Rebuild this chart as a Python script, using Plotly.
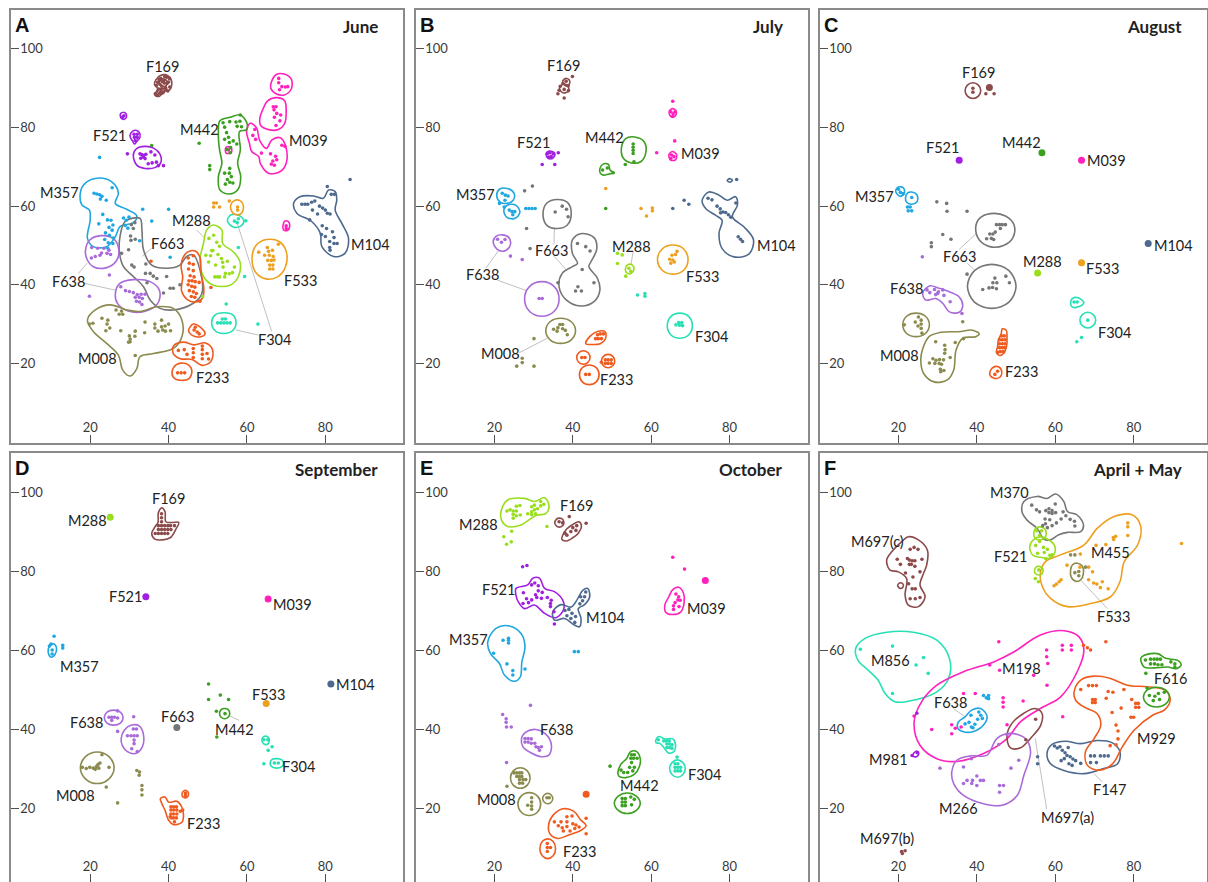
import plotly.graph_objects as go

# ---------------------------------------------------------------- colours
COL = {
    "F169": "#8c4a4a", "F521": "#a11fe2", "M039": "#ff21bd", "M442": "#3b9f1f",
    "M357": "#1fa7e1", "F663": "#767676", "M288": "#98de1c", "F638": "#a96bd9",
    "F533": "#eda01e", "F304": "#27e0b5", "M104": "#4d6a8e", "M008": "#8b8b4f",
    "F233": "#ef5a1e",
}
COL_SPRING = {
    "M370": "#767676", "M455": "#eda01e", "F533": "#8b8b4f", "F521": "#98de1c",
    "M697(c)": "#8c4a4a", "M697(a)": "#8c4a4a", "M697(b)": "#8c4a4a",
    "M856": "#27e0b5", "M198": "#ff21bd", "F638": "#1fa7e1", "F616": "#3b9f1f",
    "M929": "#ef5a1e", "M981": "#a11fe2", "M266": "#a96bd9", "F147": "#4d6a8e",
}

# ---------------------------------------------------------------- June
june_pts = {
    "F169": [(37.2, 91.5), (38.0, 92.5), (38.8, 92.0), (39.5, 92.8), (40.0, 91.6), (38.3, 90.5),
             (39.2, 90.2), (37.5, 89.8), (40.3, 90.3), (38.6, 89.0), (37.1, 88.2), (36.6, 88.6),
             (39.8, 89.3), (38.9, 91.3), (37.8, 91.0), (39.0, 93.0), (38.4, 91.7), (39.6, 91.2),
             (37.9, 88.9), (38.1, 89.6), (39.3, 89.8), (37.6, 92.2), (40.2, 92.5), (36.9, 90.7)],
    "F521": [(28.6, 83.0), (28.2, 82.6), (31.2, 78.3), (32.0, 78.3), (31.3, 77.5), (32.0, 77.5),
             (31.5, 76.7), (32.7, 73.3), (33.2, 73.1), (33.7, 72.9), (34.2, 73.2), (33.5, 72.5),
             (34.0, 72.1), (32.9, 72.2), (35.5, 73.8), (36.5, 73.0), (36.9, 71.2), (35.8, 71.0),
             (34.8, 70.8), (29.5, 73.3), (38.7, 70.3), (37.4, 70.3)],
    "M039": [(68.1, 92.5), (68.1, 91.4), (68.9, 90.4), (69.8, 90.3), (70.4, 90.4), (68.3, 89.6),
             (66.7, 85.3), (67.4, 85.3), (66.9, 84.5), (67.6, 83.6), (68.6, 83.2), (67.0, 82.6),
             (68.4, 81.7), (67.4, 80.5), (62.0, 79.5), (61.5, 78.0), (62.2, 77.0), (63.7, 73.5),
             (66.0, 73.3), (67.3, 72.7), (67.6, 71.8), (66.6, 71.5), (66.2, 70.7), (67.0, 70.4),
             (68.9, 75.5), (69.7, 75.2), (70.0, 55.0), (70.0, 54.3), (55.3, 74.3)],
    "M442": [(53.9, 81.2), (54.3, 80.1), (55.6, 81.5), (57.2, 81.4), (58.2, 81.6), (57.5, 80.3),
             (58.6, 80.2), (54.8, 78.7), (55.3, 77.5), (54.3, 77.0), (55.5, 76.2), (56.5, 76.6),
             (55.8, 74.9), (54.9, 74.4), (55.7, 73.6), (57.4, 75.8), (54.3, 68.4), (55.5, 68.4),
             (56.0, 67.5), (55.0, 66.8), (55.6, 66.1), (54.5, 65.6), (56.4, 65.9), (55.6, 69.6),
             (47.8, 76.0), (50.5, 70.3), (50.5, 69.3), (58.3, 83.2), (35.7, 75.4)],
    "M357": [(21.0, 63.3), (21.7, 63.1), (22.4, 62.9), (23.0, 62.5), (22.6, 61.8), (24.1, 61.5),
             (25.6, 64.7), (24.4, 56.5), (25.3, 56.4), (25.8, 55.2), (24.8, 54.6), (25.6, 53.9),
             (23.9, 53.2), (24.9, 52.6), (25.9, 51.9), (23.7, 51.5), (24.6, 50.7), (25.8, 50.5),
             (28.5, 57.0), (29.2, 56.4), (29.9, 57.2), (28.9, 55.1), (29.6, 54.4), (23.2, 57.9),
             (22.2, 55.5), (22.4, 72.4), (33.4, 59.2), (35.7, 56.2), (32.6, 51.2), (40.0, 59.2),
             (40.4, 47.0), (24.5, 49.3)],
    "F663": [(30.5, 55.3), (31.4, 55.8), (31.0, 54.3), (30.3, 52.4), (30.4, 51.3), (31.5, 51.6),
             (29.8, 48.9), (30.6, 45.0), (31.2, 44.5), (34.1, 42.9), (35.3, 42.9), (36.1, 42.2),
             (37.0, 41.6), (34.5, 40.5), (39.5, 42.1), (40.4, 39.1), (41.2, 39.1), (42.9, 40.0),
             (38.7, 37.9), (28.0, 48.0), (34.2, 45.3)],
    "M288": [(50.3, 51.8), (51.5, 52.6), (52.3, 50.8), (53.0, 49.8), (51.0, 48.7), (50.7, 47.4),
             (52.6, 47.7), (53.5, 46.7), (53.8, 45.7), (52.0, 45.0), (53.9, 44.5), (50.2, 45.8),
             (49.5, 47.5), (53.0, 42.0), (54.3, 42.0), (55.5, 42.8), (56.3, 43.1), (56.8, 44.5),
             (54.5, 42.9), (51.8, 42.0), (52.5, 42.0), (55.0, 46.0), (51.3, 48.7), (48.7, 37.0)],
    "F638": [(21.9, 49.3), (22.9, 48.1), (20.4, 49.5), (23.5, 49.3), (24.3, 48.0), (25.2, 47.7),
             (24.8, 48.8), (21.3, 47.2), (20.3, 46.8), (22.5, 47.5), (24.9, 42.5), (19.8, 37.1),
             (29.0, 38.5), (30.0, 38.3), (31.0, 38.0), (32.0, 37.5), (33.0, 37.6), (34.0, 37.6),
             (31.5, 36.8), (32.5, 36.8), (33.3, 36.5), (31.8, 35.8), (32.6, 35.6), (33.2, 35.0),
             (27.8, 39.5)],
    "M008": [(19.8, 30.0), (20.7, 30.2), (23.0, 31.5), (24.5, 31.0), (24.3, 30.0), (25.0, 29.0),
             (24.0, 28.3), (26.6, 33.6), (28.0, 33.3), (27.4, 32.5), (28.3, 32.5), (27.8, 28.3),
             (30.0, 27.0), (30.2, 26.2), (30.2, 25.5), (33.9, 27.8), (34.0, 30.5), (36.5, 30.0),
             (36.5, 29.0), (37.3, 28.2), (38.5, 28.5), (39.2, 28.2), (40.5, 28.3), (38.2, 29.3),
             (39.1, 29.5), (40.0, 30.0), (38.2, 31.0), (31.5, 28.2), (31.4, 26.9), (31.5, 22.0),
             (29.8, 25.4)],
    "F233": [(45.0, 46.8), (46.3, 47.4), (45.3, 45.5), (46.3, 45.2), (45.1, 44.0), (46.3, 43.6),
             (45.5, 42.3), (46.5, 42.0), (45.2, 41.0), (46.0, 41.0), (46.8, 40.8), (45.0, 40.0),
             (45.9, 39.6), (46.7, 39.4), (45.3, 38.5), (46.3, 38.2), (47.1, 37.8), (45.8, 37.0),
             (46.7, 36.8), (47.8, 40.6), (46.5, 28.5), (47.3, 28.0), (47.8, 27.5), (46.8, 29.2),
             (42.5, 23.3), (44.0, 23.5), (46.3, 23.8), (46.3, 22.7), (46.3, 21.5), (48.6, 24.4),
             (48.6, 23.5), (48.6, 22.3), (48.6, 21.2), (49.8, 22.5), (50.2, 21.1), (44.7, 22.3),
             (42.3, 17.6), (43.2, 17.6), (44.1, 17.6), (35.5, 46.0), (50.8, 39.3), (48.0, 35.8)],
    "F304": [(52.5, 30.3), (53.3, 30.3), (54.1, 30.3), (54.9, 30.3), (55.7, 30.3), (53.7, 31.3),
             (54.5, 31.3), (57.5, 55.8), (57.8, 56.8), (56.8, 56.2), (59.7, 56.3), (54.7, 35.1),
             (62.8, 30.0), (59.4, 42.1), (57.8, 49.5)],
    "F533": [(65.2, 49.5), (65.5, 48.5), (66.5, 48.8), (64.5, 47.5), (65.7, 47.5), (66.7, 47.2),
             (65.3, 46.2), (66.2, 46.2), (66.9, 46.3), (65.8, 45.0), (66.6, 45.0), (65.8, 44.0),
             (66.6, 44.0), (63.0, 48.3), (68.0, 50.3), (57.6, 59.8), (57.6, 59.0), (51.5, 60.8),
             (52.2, 60.8), (51.5, 59.8), (53.0, 59.8), (55.5, 61.3)],
    "M104": [(74.0, 60.5), (74.8, 60.5), (75.5, 60.5), (76.5, 61.0), (77.3, 61.3), (78.5, 60.0),
             (79.3, 59.5), (80.0, 59.0), (80.5, 58.2), (81.2, 58.0), (76.7, 59.0), (78.0, 58.0),
             (81.5, 63.0), (82.3, 63.0), (80.5, 65.0), (79.2, 55.0), (80.0, 52.3), (79.0, 52.8),
             (80.3, 54.3), (81.8, 53.5), (82.2, 52.0), (82.2, 50.5), (81.1, 51.0), (81.1, 49.5),
             (81.2, 48.8), (83.0, 50.5), (76.0, 56.5), (86.3, 66.8)],
}
june_rings = {
    "F169": [[(36.8, 92.2), (38.0, 93.3), (39.8, 93.2), (40.8, 91.7), (40.3, 89.6), (38.9, 89.2),
              (37.5, 87.9), (36.5, 88.3), (37.2, 89.9), (36.4, 91.0)],
             [(37.6, 91.4), (38.4, 92.4), (39.5, 91.9), (39.4, 90.7), (38.3, 90.5)],
             [(37.2, 89.2), (38.0, 90.0), (39.0, 89.6), (38.6, 88.6), (37.6, 88.5)]],
    "F521": [[(27.8, 83.6), (28.8, 83.8), (29.3, 83.0), (28.9, 82.2), (28.1, 82.2), (27.7, 82.8)],
             [(30.4, 78.6), (31.4, 79.3), (32.5, 78.8), (32.7, 77.5), (31.9, 76.5), (31.3, 75.8),
              (30.8, 76.6), (30.2, 77.6)],
             [(31.0, 72.8), (31.8, 74.6), (34.0, 75.2), (36.3, 74.7), (37.8, 73.2), (38.0, 71.0),
              (36.5, 69.8), (34.0, 69.6), (32.0, 70.3)]],
    "M039": [[(66.2, 91.5), (67.5, 93.5), (69.5, 93.6), (71.3, 92.3), (71.3, 89.8), (69.5, 88.3),
              (67.4, 88.6), (66.1, 89.9)],
             [(63.3, 82.5), (64.0, 84.5), (65.2, 86.7), (67.5, 87.6), (69.6, 86.8), (70.0, 84.0),
              (69.6, 81.0), (68.0, 79.5), (65.8, 79.4), (63.5, 80.5)],
             [(60.8, 81.1), (62.5, 79.8), (63.2, 76.8), (65.0, 74.7), (66.3, 76.8), (68.5, 77.4),
              (69.9, 75.1), (70.0, 70.9), (68.5, 68.8), (65.5, 68.4), (63.4, 70.9), (63.0, 72.6),
              (61.2, 73.9), (60.6, 76.1), (59.9, 79.0)],
             [(69.2, 55.2), (69.7, 56.2), (70.6, 56.0), (70.9, 55.0), (70.3, 53.8), (69.3, 54.0)],
             [(54.6, 74.9), (55.9, 75.0), (56.0, 73.6), (54.7, 73.5)]],
    "M442": [[(53.1, 81.7), (55.7, 82.6), (58.3, 83.2), (60.0, 81.1), (59.8, 79.4), (58.1, 79.0),
              (58.3, 74.3), (57.6, 70.9), (58.4, 67.5), (57.6, 64.1), (55.5, 63.1), (53.1, 64.1),
              (52.7, 67.5), (53.6, 70.9), (53.0, 74.3), (52.7, 78.5)]],
    "M357": [[(17.4, 62.4), (18.3, 65.4), (21.7, 67.1), (25.5, 66.2), (27.2, 63.3), (26.4, 60.7),
              (29.3, 59.2), (31.9, 57.5), (31.0, 55.8), (27.6, 54.8), (26.4, 52.2), (24.2, 49.7),
              (20.8, 49.7), (19.3, 51.8), (20.0, 56.5), (19.8, 59.0), (17.9, 60.3)]],
    "F663": [[(28.9, 56.1), (32.7, 56.9), (33.2, 53.9), (33.6, 48.9), (35.7, 45.0), (39.5, 44.2),
              (42.9, 45.0), (44.6, 47.2), (46.3, 47.6), (48.0, 43.8), (48.5, 37.8), (46.3, 35.3),
              (41.2, 33.6), (37.8, 34.0), (35.3, 36.1), (33.6, 39.5), (31.0, 42.1), (28.5, 44.6),
              (27.5, 48.0), (27.6, 52.2)]],
    "M288": [[(49.7, 53.9), (51.4, 55.2), (53.6, 53.9), (53.8, 50.5), (56.5, 48.4), (58.2, 45.9),
              (57.8, 42.1), (55.7, 39.9), (51.4, 39.9), (48.9, 42.1), (48.0, 46.3), (48.9, 50.5)]],
    "F638": [[(18.8, 48.8), (19.9, 51.4), (22.8, 52.5), (26.0, 51.7), (27.3, 49.0), (26.7, 46.1),
              (24.0, 44.3), (20.8, 44.6), (19.2, 46.5)],
             [(26.4, 37.5), (27.5, 40.3), (31.0, 41.3), (35.3, 40.8), (37.7, 38.5), (37.2, 35.2),
              (33.8, 33.2), (29.5, 33.4), (27.0, 35.2)]],
    "M008": [[(19.3, 31.0), (21.3, 33.6), (25.1, 34.9), (29.3, 33.6), (32.7, 33.2), (37.0, 34.4),
              (41.2, 34.0), (43.4, 31.0), (43.4, 26.8), (41.2, 23.8), (36.1, 22.5), (32.7, 21.7),
              (31.9, 18.7), (30.2, 16.8), (28.3, 18.3), (27.2, 22.1), (24.2, 25.1), (20.8, 28.1)]],
    "F233": [[(43.5, 46.5), (44.8, 48.3), (46.8, 48.6), (48.0, 47.0), (48.3, 43.0), (49.0, 39.0),
              (48.6, 36.5), (46.8, 35.6), (44.7, 36.3), (43.3, 38.5), (43.6, 42.0), (43.2, 44.5)],
             [(45.1, 28.3), (46.3, 30.0), (48.0, 29.3), (49.3, 27.5), (48.3, 26.8), (46.3, 27.0)],
             [(41.3, 24.5), (43.8, 25.4), (46.5, 24.7), (49.4, 25.2), (51.2, 23.5), (50.8, 20.5),
              (48.5, 19.5), (46.0, 21.0), (43.0, 21.2), (41.2, 22.5)],
             [(40.9, 18.0), (42.0, 19.7), (44.4, 20.0), (45.9, 18.4), (45.3, 16.2), (43.0, 15.7),
              (41.2, 16.5)]],
    "F304": [[(51.0, 30.6), (51.8, 32.3), (54.0, 32.9), (56.3, 32.4), (57.2, 30.5), (56.5, 28.5),
              (54.0, 27.6), (51.7, 28.5)],
             [(55.0, 56.3), (56.0, 57.8), (58.0, 57.6), (59.2, 56.2), (58.5, 55.0), (56.5, 54.7)]],
    "F533": [[(61.3, 47.0), (62.3, 50.0), (65.0, 51.5), (68.2, 51.0), (70.0, 48.5), (69.8, 44.5),
              (67.8, 42.0), (64.8, 41.5), (62.2, 43.2)],
             [(55.8, 59.7), (56.6, 61.3), (58.2, 61.4), (59.1, 59.8), (58.4, 58.0), (56.7, 58.0)]],
    "M104": [[(71.9, 60.7), (73.5, 62.4), (77.0, 62.6), (79.5, 62.0), (80.8, 64.1), (82.5, 63.7),
              (82.9, 61.6), (82.5, 59.0), (84.2, 55.6), (85.9, 51.8), (85.0, 48.0), (82.1, 47.2),
              (79.1, 49.7), (78.7, 53.1), (76.5, 56.1), (72.7, 58.2)]],
}
june_dots = {}
june_labels = [("F169", 38.4, 95.4), ("F521", 25.0, 77.9), ("M442", 47.8, 79.5),
               ("M039", 75.8, 76.8), ("M357", 12.1, 63.5), ("M288", 45.9, 56.3),
               ("F663", 39.7, 50.5), ("F638", 14.5, 40.8), ("M104", 91.6, 50.2),
               ("F533", 73.7, 41.2), ("F304", 67.1, 26.0), ("M008", 21.8, 21.3),
               ("F233", 51.1, 16.4)]
june_leaders = [((35.7, 49.3), (33.2, 47.2)), ((18.3, 40.4), (26.6, 38.6)),
                ((17.0, 42.9), (19.2, 45.5)), ((47.2, 53.9), (49.3, 51.8)),
                ((66.3, 28.1), (57.6, 55.4)), ((62.9, 27.2), (57.2, 28.5))]

# ---------------------------------------------------------------- July
july_pts = {
    "F169": [(36.8, 90.5), (37.5, 91.2), (38.3, 91.8), (38.8, 90.6), (37.8, 89.7), (38.9, 89.4),
             (36.5, 89.5), (39.9, 93.0), (36.2, 88.6), (37.8, 87.5)],
    "F521": [(33.5, 73.4), (34.2, 73.6), (35.0, 73.3), (34.5, 72.6), (33.8, 72.5), (36.3, 73.6),
             (32.2, 70.6), (35.4, 70.6)],
    "M442": [(55.4, 75.8), (55.4, 75.0), (55.4, 74.2), (55.4, 73.4), (55.6, 71.3), (47.6, 69.2),
             (48.8, 69.7), (50.3, 68.5), (53.4, 70.6), (48.4, 59.4)],
    "M039": [(65.5, 86.7), (65.0, 84.0), (65.6, 83.5), (66.1, 84.0), (65.5, 82.8), (66.0, 76.6),
             (61.4, 73.6), (65.2, 73.0), (65.8, 72.6), (65.0, 72.1)],
    "M357": [(22.0, 63.3), (22.8, 62.8), (23.5, 62.6), (22.7, 61.5), (23.8, 59.0), (24.5, 58.6),
             (25.2, 58.6), (24.7, 57.8), (21.3, 60.7), (22.5, 59.8), (28.0, 59.4), (28.8, 59.4),
             (29.6, 59.4), (30.4, 59.4)],
    "F663": [(35.5, 58.5), (37.3, 60.0), (38.4, 59.2), (38.8, 57.3), (41.2, 50.5), (43.3, 49.7),
             (44.4, 48.6), (42.4, 43.9), (45.4, 40.5), (41.3, 39.5), (40.7, 38.4), (42.2, 38.4),
             (36.2, 40.5), (27.7, 63.9), (29.7, 65.1), (28.2, 54.3), (29.1, 49.2)],
    "F638": [(20.8, 51.6), (22.7, 51.5), (21.8, 50.8), (24.1, 47.3), (27.1, 46.4), (31.4, 36.5),
             (32.2, 36.5)],
    "M288": [(54.3, 44.2), (54.8, 43.4), (53.5, 42.2), (51.4, 48.0), (52.6, 47.6), (51.4, 45.4)],
    "F533": [(65.3, 47.5), (66.2, 47.7), (65.5, 46.3), (64.7, 46.5), (66.6, 48.5), (65.0, 45.5),
             (65.9, 45.8), (48.4, 64.5), (57.4, 59.4), (60.3, 58.8), (60.3, 59.5), (58.8, 57.5)],
    "F304": [(66.3, 29.8), (67.0, 30.4), (67.8, 30.4), (67.2, 29.7), (68.0, 29.6), (56.5, 37.4),
             (58.4, 37.8), (58.4, 37.1)],
    "M104": [(74.5, 62.0), (75.5, 61.6), (76.8, 60.0), (77.6, 59.3), (78.3, 58.5), (79.0, 58.4),
             (79.7, 57.8), (80.3, 57.2), (81.6, 60.8), (82.2, 52.2), (82.8, 51.6), (83.3, 51.0),
             (77.7, 58.3), (81.8, 66.8), (65.5, 59.4), (68.4, 61.5), (69.6, 60.5)],
    "M008": [(35.1, 28.7), (36.2, 29.1), (36.7, 29.9), (37.4, 29.9), (37.4, 28.8), (38.1, 28.4),
             (38.6, 27.3), (36.0, 28.2), (30.1, 26.3), (27.1, 21.3), (27.1, 20.2), (25.7, 19.3),
             (30.1, 19.3)],
    "F233": [(45.8, 26.3), (46.5, 26.3), (47.3, 26.3), (46.3, 27.3), (47.0, 27.5), (47.8, 27.5),
             (42.3, 21.5), (43.1, 21.5), (48.3, 20.9), (49.0, 20.9), (49.8, 20.9), (48.3, 20.0),
             (49.0, 20.0), (49.8, 20.0), (47.3, 20.3), (43.3, 17.2), (44.2, 17.2)],
}
july_rings = {
    "F169": [[(37.4, 91.6), (38.1, 92.5), (39.1, 92.1), (39.1, 91.0), (38.2, 90.6)],
             [(36.6, 89.9), (37.5, 91.0), (38.7, 90.7), (38.9, 89.3), (37.6, 88.8)]],
    "F521": [[(33.2, 73.4), (34.0, 74.0), (35.3, 73.6), (35.2, 72.5), (34.2, 72.0), (33.4, 72.5)]],
    "M442": [[(52.4, 74.8), (53.5, 77.2), (55.8, 77.6), (58.2, 76.4), (58.6, 73.5), (57.3, 71.3),
              (55.0, 71.0), (52.9, 72.2)],
             [(46.9, 69.5), (47.7, 70.7), (49.1, 70.6), (49.5, 69.2), (50.5, 68.5), (49.2, 68.2),
              (47.8, 67.9), (47.0, 68.4)]],
    "M039": [[(64.6, 84.2), (65.5, 84.8), (66.4, 84.1), (66.1, 82.9), (65.0, 82.8)],
             [(64.5, 73.0), (65.4, 73.9), (66.5, 73.0), (66.2, 71.8), (65.0, 71.7)]],
    "M357": [[(20.6, 62.7), (21.3, 64.3), (23.3, 64.5), (25.0, 63.3), (24.8, 61.5), (23.2, 60.7),
              (21.5, 61.0)],
             [(22.4, 58.8), (23.4, 60.3), (25.5, 60.2), (26.5, 58.5), (25.3, 56.9), (23.3, 57.1)]],
    "F663": [[(32.4, 58.0), (33.4, 60.8), (36.0, 61.7), (38.7, 60.9), (39.6, 58.0), (38.6, 55.2),
              (36.0, 54.3), (33.4, 55.1)],
             [(39.9, 51.4), (42.0, 53.0), (45.4, 52.0), (46.1, 49.0), (44.6, 45.8), (44.1, 44.6),
              (46.3, 41.6), (46.9, 38.6), (45.4, 35.7), (42.0, 34.6), (38.4, 36.1), (36.5, 39.5),
              (37.3, 42.9), (39.9, 44.6), (41.2, 45.4), (39.9, 48.0)]],
    "F638": [[(19.7, 50.7), (20.4, 52.3), (22.0, 52.7), (23.7, 52.0), (24.1, 50.3), (23.0, 48.8),
              (21.2, 48.7)],
             [(27.7, 36.4), (29.0, 39.6), (32.1, 40.8), (35.2, 39.6), (36.5, 36.4), (35.2, 33.2),
              (32.1, 32.0), (29.0, 33.2)]],
    "M288": [[(53.4, 44.0), (54.0, 45.1), (55.2, 45.0), (55.6, 43.9), (54.9, 42.9), (53.8, 43.0)]],
    "F533": [[(61.6, 46.4), (62.8, 49.1), (65.5, 50.1), (68.3, 49.1), (69.4, 46.4), (68.3, 43.7),
              (65.5, 42.7), (62.8, 43.7)]],
    "F304": [[(64.1, 29.6), (65.0, 31.9), (67.3, 32.8), (69.6, 31.9), (70.5, 29.6), (69.6, 27.3),
              (67.3, 26.4), (65.0, 27.3)]],
    "M104": [[(73.0, 61.5), (74.7, 63.6), (77.3, 62.8), (79.4, 61.5), (81.5, 62.4), (82.0, 60.3),
              (80.7, 57.3), (83.7, 54.7), (86.1, 51.4), (84.9, 47.8), (81.1, 47.1), (78.1, 49.2),
              (77.3, 53.1), (78.1, 56.4), (76.4, 57.7), (73.9, 59.4)],
             [(79.4, 66.5), (80.0, 67.0), (80.7, 66.6), (80.1, 66.1)]],
    "M008": [[(33.1, 28.3), (34.2, 30.6), (36.9, 31.5), (39.6, 30.6), (40.7, 28.3), (39.6, 26.0),
              (36.9, 25.1), (34.2, 26.0)]],
    "F233": [[(43.3, 25.0), (44.5, 27.0), (46.5, 28.2), (48.3, 28.0), (48.3, 26.2), (47.0, 25.0),
              (45.0, 24.8)],
             [(41.0, 21.5), (41.5, 22.7), (42.7, 23.2), (43.9, 22.7), (44.4, 21.5), (43.9, 20.3),
              (42.7, 19.8), (41.5, 20.3)],
             [(47.3, 20.6), (47.8, 21.8), (49.0, 22.3), (50.2, 21.8), (50.7, 20.6), (50.2, 19.4),
              (49.0, 18.9), (47.8, 19.4)],
             [(41.7, 17.1), (42.4, 18.9), (44.2, 19.6), (46.0, 18.9), (46.7, 17.1), (46.0, 15.3),
              (44.2, 14.6), (42.4, 15.3)]],
}
july_dots = {}
july_labels = [("F169", 37.7, 95.8), ("F521", 30.1, 76.2), ("M442", 48.0, 77.5),
               ("M039", 72.6, 73.5), ("M357", 15.2, 63.0), ("F663", 34.5, 48.8),
               ("F638", 17.0, 42.5), ("M288", 55.1, 49.8), ("F533", 73.0, 42.2),
               ("F304", 75.3, 26.8), ("M104", 92.0, 50.0), ("M008", 21.5, 22.4),
               ("F233", 51.1, 15.9)]
july_leaders = [((35.2, 50.3), (35.3, 54.3)), ((35.2, 47.3), (38.5, 43.6)),
                ((17.8, 44.2), (21.0, 48.6)), ((20.7, 41.2), (28.2, 38.5)),
                ((55.4, 48.4), (54.8, 45.0)), ((26.3, 22.7), (33.5, 26.4))]

# ---------------------------------------------------------------- August
aug_pts = {
    "F169": [(39.0, 90.0), (39.0, 89.0), (42.3, 88.6), (44.4, 88.6)],
    "M357": [(20.0, 64.3), (20.5, 63.5), (21.2, 63.2), (23.4, 62.2), (22.3, 59.8), (23.0, 59.8),
             (22.5, 58.8), (23.4, 58.8)],
    "F663": [(45.0, 55.3), (45.8, 55.3), (46.5, 55.3), (47.3, 55.3), (46.0, 54.3), (44.7, 53.4),
             (43.3, 52.9), (44.1, 52.9), (43.7, 51.8), (44.3, 51.5), (42.5, 51.7), (44.6, 41.7),
             (41.5, 38.8), (43.1, 39.2), (44.0, 39.3), (44.1, 40.5), (45.1, 40.5), (45.0, 39.0),
             (47.4, 42.2), (48.3, 40.5), (37.5, 42.7), (29.8, 61.1), (32.3, 60.7), (32.4, 58.7),
             (37.5, 58.7), (31.3, 52.8), (33.4, 51.6), (28.4, 50.7), (28.4, 49.7)],
    "F638": [(27.3, 38.7), (28.0, 38.0), (29.2, 38.8), (30.2, 38.2), (31.3, 38.7), (31.6, 37.3),
             (33.2, 35.7), (29.5, 37.5), (30.0, 37.8), (26.1, 47.1), (36.2, 32.7)],
    "M008": [(21.5, 29.8), (24.3, 30.5), (25.1, 31.8), (25.8, 31.0), (25.8, 30.0), (25.0, 29.5),
             (25.8, 28.9), (26.0, 27.7), (29.5, 25.5), (31.8, 24.6), (31.9, 23.5), (31.8, 22.6),
             (28.8, 21.2), (29.6, 20.8), (30.5, 21.0), (30.4, 20.0), (31.0, 19.8), (29.3, 20.0),
             (27.9, 20.1), (30.7, 18.5), (31.6, 18.2), (30.8, 17.9), (31.5, 20.9), (33.2, 21.5),
             (36.6, 26.3), (34.5, 25.3), (36.4, 30.6)],
    "F233": [(46.3, 27.0), (47.0, 27.0), (45.8, 26.0), (46.5, 26.0), (47.2, 26.0), (45.8, 25.0),
             (46.5, 25.0), (47.2, 25.0), (45.8, 24.0), (46.5, 24.0), (47.1, 24.0), (46.0, 23.0),
             (46.7, 23.0), (45.3, 22.8), (44.6, 17.2), (45.3, 18.0)],
    "F304": [(64.8, 35.6), (65.6, 35.6), (68.3, 31.0), (66.7, 26.6), (65.5, 25.5)],
}
aug_rings = {
    "F169": [[(37.0, 89.4), (37.6, 90.8), (39.0, 91.4), (40.4, 90.8), (41.0, 89.4), (40.4, 88.0),
              (39.0, 87.4), (37.6, 88.0)]],
    "M357": [[(19.3, 63.8), (20.0, 64.9), (21.3, 64.6), (21.5, 63.2), (20.4, 62.5)],
             [(21.8, 62.0), (22.3, 63.3), (23.4, 63.6), (24.7, 62.9), (24.8, 61.2), (23.4, 60.5),
              (22.1, 61.0)]],
    "F663": [[(39.7, 54.5), (40.7, 56.9), (43.5, 58.1), (47.3, 57.5), (49.5, 55.2), (49.2, 52.0),
              (46.8, 50.0), (43.3, 49.7), (40.7, 51.3)],
             [(37.6, 39.6), (39.4, 43.6), (43.8, 45.2), (48.2, 43.6), (50.0, 39.6), (48.2, 35.6),
              (43.8, 34.0), (39.4, 35.6)]],
    "F638": [[(26.2, 37.8), (27.9, 39.7), (30.4, 39.1), (33.0, 38.2), (35.5, 36.9), (36.4, 34.8),
              (35.5, 33.0), (33.0, 33.1), (31.3, 35.3), (29.5, 36.5), (27.0, 36.1)]],
    "M008": [[(21.1, 29.8), (22.1, 32.0), (24.5, 32.8), (26.9, 32.0), (27.9, 29.8), (26.9, 27.6),
              (24.5, 26.8), (22.1, 27.6)],
             [(26.1, 23.4), (27.8, 26.8), (30.8, 27.9), (35.9, 28.1), (38.5, 28.5), (40.6, 27.6),
              (39.7, 26.8), (36.4, 26.4), (34.7, 23.4), (34.1, 18.3), (32.5, 15.8), (29.1, 15.3),
              (26.4, 17.5), (25.7, 20.8)]],
    "F233": [[(46.5, 28.8), (47.5, 28.4), (47.7, 26.5), (47.6, 24.5), (46.8, 22.5), (45.8, 22.0),
              (45.0, 22.8), (45.3, 24.3), (45.5, 26.0), (46.2, 27.5)],
             [(43.3, 17.2), (43.9, 18.8), (45.3, 19.2), (46.3, 18.2), (46.0, 16.6), (44.4, 16.2)]],
    "F304": [[(63.9, 35.3), (64.5, 36.6), (65.8, 36.7), (67.3, 35.5), (65.9, 34.4), (64.4, 34.3)],
             [(66.3, 31.0), (66.9, 32.4), (68.3, 33.0), (69.7, 32.4), (70.3, 31.0), (69.7, 29.6),
              (68.3, 29.0), (66.9, 29.6)]],
}
aug_dots = {"F169": (43.2, 90.2), "F521": (35.5, 71.7), "M442": (56.6, 73.6),
            "M039": (66.7, 71.7), "M288": (55.5, 43.0), "F533": (66.7, 45.6),
            "M104": (83.7, 50.5)}
aug_labels = [("F169", 40.4, 93.9), ("F521", 31.3, 74.8), ("M442", 51.3, 76.1),
              ("M039", 73.1, 71.5), ("M357", 13.9, 62.5), ("F663", 35.5, 47.3),
              ("M288", 56.8, 45.8), ("F533", 72.1, 44.2), ("M104", 90.1, 50.1),
              ("F638", 22.0, 39.1), ("M008", 20.2, 21.9), ("F233", 51.3, 17.9),
              ("F304", 75.2, 27.8)]
aug_leaders = [((35.5, 49.0), (39.8, 53.0)), ((37.6, 45.4), (39.3, 43.9))]

# ---------------------------------------------------------------- September
sep_pts = {
    "F169": [(38.2, 94.5), (38.2, 93.5), (38.2, 92.5), (37.4, 91.5), (38.2, 91.5), (39.0, 91.5),
             (39.8, 91.5), (37.4, 90.5), (38.2, 90.5), (39.0, 90.5), (39.8, 90.5), (40.6, 90.5),
             (37.4, 89.5), (38.2, 89.5), (39.0, 89.5), (39.8, 89.5), (36.6, 89.5), (40.5, 91.5),
             (41.5, 91.5)],
    "M357": [(10.0, 61.5), (10.8, 63.5), (13.0, 61.2), (13.0, 60.5), (10.3, 60.0), (10.3, 59.0),
             (9.6, 61.0)],
    "M442": [(54.4, 43.9), (50.2, 51.4), (50.2, 47.5), (53.2, 48.6), (55.3, 47.5), (52.2, 44.5),
             (52.3, 38.0)],
    "F638": [(24.8, 43.0), (25.5, 43.0), (26.2, 43.0), (27.0, 42.8), (25.5, 42.2), (27.0, 44.6),
             (27.0, 39.4), (31.0, 40.0), (31.8, 40.0), (29.5, 38.3), (30.4, 38.3), (31.2, 38.3),
             (32.0, 38.3), (31.2, 37.2), (31.2, 36.3), (30.6, 35.0), (32.0, 34.3), (31.1, 43.1)],
    "M008": [(18.0, 30.3), (19.0, 30.0), (19.9, 30.3), (20.8, 30.1), (21.6, 30.5), (22.2, 30.1),
             (22.5, 31.4), (22.0, 31.0), (21.3, 29.8), (24.8, 30.3), (23.0, 33.5), (24.1, 25.3),
             (27.0, 21.3), (31.9, 29.5), (32.6, 29.1), (32.5, 28.3), (33.2, 25.7), (33.2, 24.6),
             (33.2, 23.3)],
    "F233": [(40.6, 20.3), (41.3, 20.3), (42.0, 20.3), (40.6, 19.5), (41.3, 19.5), (42.1, 19.5),
             (40.6, 18.5), (41.3, 18.5), (42.1, 18.5), (43.0, 19.2), (40.7, 17.5), (41.3, 17.5),
             (42.0, 17.5), (43.6, 19.5), (41.5, 16.5), (40.4, 17.8), (44.3, 23.7), (44.3, 23.2)],
    "F304": [(64.3, 37.3), (65.3, 37.3), (65.4, 34.6), (66.4, 35.5), (67.0, 31.4), (68.0, 31.4),
             (64.3, 31.2)],
}
sep_rings = {
    "F169": [[(37.4, 94.8), (38.3, 96.0), (39.1, 95.0), (39.3, 92.5), (40.8, 92.3), (42.6, 92.3),
              (41.8, 90.5), (40.5, 88.5), (38.5, 87.9), (36.5, 88.1), (35.7, 89.5), (36.6, 91.3),
              (37.3, 92.3)]],
    "M357": [[(9.3, 59.3), (9.6, 61.0), (10.6, 61.6), (11.4, 60.6), (11.0, 58.8), (10.1, 58.2)]],
    "M442": [[(53.0, 43.9), (53.4, 44.9), (54.3, 45.2), (55.2, 44.9), (55.6, 43.9), (55.2, 43.0),
              (54.3, 42.6), (53.4, 43.0)]],
    "F638": [[(23.6, 42.9), (24.3, 44.3), (26.0, 44.8), (27.7, 44.3), (28.4, 42.9), (27.7, 41.5),
              (26.0, 41.0), (24.3, 41.5)],
             [(27.9, 37.5), (28.7, 39.7), (30.5, 41.0), (32.5, 40.8), (33.6, 38.5), (33.3, 35.5),
              (31.5, 33.8), (29.5, 34.3), (28.2, 35.8)]],
    "M008": [[(17.5, 30.2), (18.8, 33.0), (21.8, 34.2), (24.8, 33.0), (26.1, 30.2), (24.8, 27.4),
              (21.8, 26.2), (18.8, 27.4)]],
    "F233": [[(37.9, 22.4), (39.1, 22.8), (40.0, 21.5), (42.1, 21.7), (43.4, 20.2), (43.8, 18.1),
              (43.4, 16.4), (41.3, 15.8), (40.0, 16.9), (39.1, 19.4), (38.3, 21.1)],
             [(43.4, 23.5), (43.8, 24.3), (44.6, 24.4), (45.1, 23.6), (44.7, 22.7), (43.8, 22.7)]],
    "F304": [[(63.8, 37.2), (64.3, 38.1), (65.3, 38.0), (65.7, 37.0), (65.1, 36.1), (64.2, 36.3)],
             [(65.9, 31.3), (66.4, 32.3), (67.6, 32.5), (68.9, 32.2), (69.3, 31.3), (68.8, 30.4),
              (67.6, 30.1), (66.4, 30.4)]],
}
sep_dots = {"M288": (25.1, 93.6), "F521": (34.2, 73.5), "M039": (65.4, 72.9),
            "M104": (81.4, 51.4), "F533": (64.9, 46.5), "F663": (42.1, 40.4)}
sep_labels = [("F169", 40.1, 98.3), ("M288", 19.4, 92.7), ("F521", 28.9, 73.5),
              ("M039", 71.5, 71.5), ("M357", 17.2, 55.9), ("M104", 87.7, 51.3),
              ("F533", 65.5, 48.7), ("F663", 42.3, 43.1), ("M442", 56.9, 39.9),
              ("F638", 19.0, 41.6), ("M008", 16.3, 23.2), ("F233", 48.8, 16.0),
              ("F304", 73.1, 30.6)]
sep_leaders = [((55.6, 43.3), (58.0, 42.2))]

# ---------------------------------------------------------------- October
oct_pts = {
    "M288": [(23.2, 95.2), (24.0, 95.5), (24.8, 95.2), (25.6, 95.2), (24.8, 94.4), (25.6, 94.0),
             (24.8, 93.4), (26.6, 94.2), (25.6, 96.4), (26.5, 96.6), (29.5, 96.3), (30.2, 96.7),
             (30.2, 95.5), (31.0, 95.8), (31.8, 96.5), (31.8, 97.6), (32.6, 96.9), (29.5, 95.0),
             (29.5, 94.3), (30.5, 94.5), (28.5, 94.5), (33.4, 91.3), (24.4, 90.1), (22.4, 88.7),
             (24.3, 87.4), (23.1, 86.8)],
    "F169": [(38.5, 89.1), (39.5, 90.0), (40.0, 91.0), (41.0, 91.5), (40.8, 90.3), (38.0, 89.6),
             (36.5, 92.5), (37.4, 92.2), (39.1, 93.8), (43.4, 92.1)],
    "F521": [(27.4, 74.5), (28.2, 73.0), (29.5, 76.5), (30.3, 77.0), (31.2, 76.3), (31.2, 75.0),
             (30.5, 74.0), (30.8, 73.3), (32.0, 73.1), (32.2, 74.6), (33.5, 73.3), (34.5, 72.6),
             (34.3, 71.8), (34.3, 71.0), (28.7, 72.0), (27.3, 71.8), (29.5, 72.7), (35.2, 69.7),
             (27.2, 81.1), (28.3, 81.4), (35.3, 66.6)],
    "M104": [(38.0, 70.0), (39.0, 70.3), (39.8, 69.3), (38.5, 68.7), (39.5, 68.0), (40.7, 68.5),
             (40.5, 67.0), (41.8, 71.7), (42.5, 72.5), (43.0, 73.5), (43.3, 74.7), (42.0, 73.5)],
    "M039": [(66.3, 74.2), (67.0, 73.5), (67.4, 72.6), (66.8, 72.7), (66.1, 72.0), (65.7, 71.2),
             (67.1, 71.0), (65.7, 70.3), (65.5, 83.5), (68.5, 80.5)],
    "M357": [(22.2, 62.5), (23.6, 62.5), (23.6, 63.0), (23.6, 61.8), (19.8, 59.2), (23.2, 56.5),
             (24.7, 54.8), (24.7, 53.7), (27.8, 55.2), (40.4, 59.6), (41.4, 59.6)],
    "F638": [(27.8, 37.6), (28.6, 37.6), (29.4, 37.5), (27.8, 36.7), (28.6, 36.7), (29.4, 36.4),
             (30.3, 36.4), (30.6, 35.5), (31.2, 35.3), (32.0, 35.5), (31.5, 34.6), (22.1, 43.7),
             (23.0, 42.6), (23.0, 41.7), (23.1, 40.5), (24.3, 40.5), (29.2, 46.0), (23.1, 31.5)],
    "M008": [(25.0, 28.9), (25.7, 28.9), (26.4, 28.9), (27.0, 28.9), (25.7, 28.0), (26.4, 28.0),
             (27.0, 28.0), (26.4, 27.2), (27.3, 27.2), (26.4, 26.3), (27.2, 26.3), (28.0, 27.2),
             (29.5, 22.6), (29.5, 21.5), (29.5, 20.5), (28.5, 20.7), (29.5, 19.7), (33.4, 22.6),
             (34.0, 22.6), (23.2, 25.5)],
    "F233": [(35.3, 16.5), (36.3, 15.5), (37.0, 16.5), (37.3, 15.0), (37.6, 14.2), (38.5, 17.8),
             (38.5, 16.5), (38.5, 15.3), (39.3, 14.2), (40.0, 16.0), (40.8, 15.7), (40.5, 14.8),
             (41.6, 15.2), (39.8, 18.0), (43.4, 17.4), (43.4, 13.5), (33.5, 11.0), (33.5, 10.0),
             (33.5, 9.0), (34.3, 10.0)],
    "M442": [(55.0, 33.5), (55.7, 33.5), (54.8, 32.6), (55.5, 32.6), (56.4, 32.6), (55.0, 31.5),
             (54.5, 30.3), (55.3, 29.4), (54.0, 29.0), (53.0, 29.0), (52.3, 29.6), (55.7, 30.3),
             (49.5, 30.6), (52.6, 22.4), (53.4, 22.4), (54.8, 22.8), (52.6, 21.5), (53.4, 21.5),
             (52.6, 20.6), (53.4, 20.6), (55.0, 20.8), (55.7, 22.2)],
    "F304": [(63.2, 37.0), (63.9, 37.0), (64.6, 37.0), (64.0, 36.2), (64.7, 36.2), (65.3, 36.0),
             (64.0, 35.3), (64.7, 35.3), (65.3, 35.1), (61.8, 37.3), (66.1, 31.2), (66.8, 31.2),
             (66.1, 30.3), (66.8, 30.3), (67.5, 30.3), (66.1, 29.4), (66.8, 29.4), (67.5, 29.4),
             (66.6, 32.9)],
}
oct_rings = {
    "M288": [[(21.7, 95.1), (23.4, 98.0), (27.7, 98.4), (30.2, 97.6), (32.8, 98.6), (33.9, 96.7),
              (33.2, 94.6), (30.6, 94.1), (26.8, 91.7), (23.4, 91.3), (21.9, 92.7)]],
    "F169": [[(35.4, 92.2), (35.8, 93.1), (36.6, 93.4), (37.5, 93.0), (37.7, 92.0), (37.0, 91.2),
              (36.0, 91.3)],
             [(37.4, 89.0), (38.5, 90.7), (40.0, 91.8), (41.5, 92.5), (42.2, 91.5), (41.4, 89.6),
              (39.8, 88.3), (38.2, 87.6), (37.2, 88.0)]],
    "F521": [[(25.5, 75.6), (28.5, 76.5), (29.8, 78.2), (31.5, 78.2), (32.8, 75.6), (35.3, 74.8),
              (37.4, 72.7), (37.7, 70.4), (35.7, 68.2), (32.8, 69.3), (30.2, 71.4), (27.7, 70.5),
              (26.1, 72.2), (25.5, 73.9)]],
    "M104": [[(34.9, 69.7), (37.0, 71.5), (39.6, 70.9), (41.3, 73.1), (42.6, 75.2), (43.8, 75.6),
              (44.3, 73.5), (43.0, 71.5), (41.4, 70.5), (42.1, 68.0), (41.7, 65.9), (40.3, 66.4),
              (37.9, 68.0), (35.3, 67.6)]],
    "M039": [[(63.5, 71.5), (64.5, 73.5), (65.5, 75.3), (67.0, 75.9), (68.2, 74.5), (68.4, 72.0),
              (67.5, 69.6), (65.3, 69.0), (63.7, 69.6)]],
    "M357": [[(18.3, 62.1), (20.4, 65.5), (23.8, 66.1), (26.8, 64.2), (27.8, 60.8), (27.0, 57.0),
              (26.6, 53.2), (25.1, 52.1), (22.6, 53.6), (21.3, 56.6), (19.0, 59.1)]],
    "F638": [[(26.9, 37.5), (28.0, 39.2), (30.5, 39.9), (33.0, 38.8), (34.5, 36.3), (34.0, 33.5),
              (32.0, 33.0), (29.3, 34.0), (27.3, 35.5)]],
    "M008": [[(24.1, 27.6), (24.8, 29.4), (26.6, 30.2), (28.4, 29.4), (29.1, 27.6), (28.4, 25.8),
              (26.6, 25.0), (24.8, 25.8)],
             [(26.0, 21.0), (26.8, 23.0), (28.9, 23.9), (31.0, 23.0), (31.8, 21.0), (31.0, 19.0),
              (28.9, 18.1), (26.8, 19.0)],
             [(32.3, 22.4), (32.7, 23.3), (33.6, 23.7), (34.5, 23.3), (34.9, 22.4), (34.3, 21.3),
              (33.6, 21.1), (32.8, 21.4)]],
    "F233": [[(33.8, 15.5), (35.0, 18.2), (37.5, 19.8), (40.2, 19.2), (42.0, 17.0), (43.4, 15.5),
              (42.0, 14.3), (39.0, 13.2), (36.3, 12.3), (34.3, 13.3)],
             [(31.6, 9.7), (32.2, 11.5), (33.6, 12.2), (35.0, 11.5), (35.6, 9.7), (35.0, 7.9),
              (33.6, 7.2), (32.2, 7.9)]],
    "M442": [[(51.5, 28.8), (52.2, 31.0), (53.7, 32.5), (54.8, 34.3), (56.3, 34.3), (57.2, 32.5),
              (57.0, 30.5), (55.7, 28.5), (53.5, 27.7), (51.8, 28.0)],
             [(50.6, 21.2), (51.6, 23.0), (53.9, 23.8), (56.2, 23.0), (57.2, 21.2), (56.2, 19.4),
              (53.9, 18.6), (51.6, 19.4)]],
    "F304": [[(61.3, 37.5), (62.0, 38.1), (63.5, 37.5), (65.5, 37.5), (66.2, 36.0), (65.7, 34.2),
              (64.3, 34.0), (63.3, 35.2), (62.3, 36.3), (61.2, 36.6)],
             [(64.7, 30.0), (65.3, 31.5), (66.7, 32.2), (68.1, 31.5), (68.7, 30.0), (68.1, 28.5),
              (66.7, 27.8), (65.3, 28.5)]],
}
oct_dots = {"F233": (43.4, 23.5), "M039": (73.8, 77.6)}
oct_labels = [("M288", 16.0, 91.8), ("F169", 40.9, 96.5), ("F521", 21.0, 75.4),
              ("M104", 48.3, 68.2), ("M039", 74.1, 70.5), ("M357", 13.4, 62.8),
              ("F638", 35.8, 39.9), ("M008", 20.6, 22.1), ("F233", 41.8, 9.0),
              ("M442", 57.0, 25.6), ("F304", 73.6, 28.5)]
oct_leaders = []

# ---------------------------------------------------------------- April + May
spring_pts = {
    "M370": [(54.0, 96.7), (55.2, 95.5), (56.0, 95.0), (57.6, 95.3), (58.4, 95.8), (59.2, 95.3),
             (58.4, 94.8), (59.2, 94.6), (60.1, 94.8), (60.0, 97.0), (62.0, 95.0), (62.7, 94.0),
             (61.5, 93.2), (58.6, 93.0), (57.4, 93.2), (60.3, 92.2), (63.8, 93.1), (64.9, 92.6),
             (65.0, 91.4), (56.8, 91.5), (57.5, 92.0), (58.0, 91.0), (59.2, 91.5)],
    "M455": [(66.4, 84.3), (70.4, 86.5), (72.9, 86.7), (74.8, 88.5), (75.4, 88.8), (74.9, 88.0),
             (78.5, 92.2), (78.5, 91.2), (78.5, 89.0), (63.0, 81.5), (66.3, 81.0), (68.5, 81.0),
             (69.5, 79.8), (61.0, 77.3), (60.3, 76.7), (61.5, 77.8), (59.7, 76.3), (68.5, 77.8),
             (69.8, 77.0), (70.6, 76.7), (72.0, 77.3), (73.5, 75.5), (71.5, 75.8), (92.2, 87.0)],
    "F533": [(65.0, 79.6), (66.0, 79.9), (66.0, 78.8), (63.9, 84.1), (65.0, 84.1), (67.7, 81.0)],
    "F521": [(55.3, 90.2), (56.5, 90.2), (56.0, 89.0), (56.0, 87.5), (55.0, 86.5), (57.0, 86.0),
             (58.0, 85.5), (57.2, 84.7), (55.5, 84.5), (58.6, 84.0), (57.6, 83.1), (55.8, 80.3),
             (54.9, 78.1), (55.7, 77.3), (59.2, 84.1)],
    "M697(c)": [(23.0, 85.5), (24.0, 86.0), (25.0, 85.5), (26.0, 83.0), (22.3, 83.2), (22.8, 82.8),
                (23.5, 82.6), (24.2, 82.6), (22.8, 81.7), (23.3, 81.7), (24.2, 81.2), (19.7, 83.0),
                (20.5, 81.7), (21.8, 79.5), (23.7, 78.5), (25.5, 79.8), (22.6, 76.8), (23.5, 75.5),
                (24.3, 75.5), (23.0, 73.0), (24.3, 73.0), (25.5, 73.3)],
    "M856": [(10.3, 60.2), (18.5, 61.0), (26.4, 58.1), (24.5, 56.2), (27.6, 54.1), (18.5, 49.0)],
    "M198": [(45.6, 62.1), (43.3, 56.2), (45.8, 54.9), (54.5, 53.6), (58.1, 56.6), (57.8, 58.3),
             (57.8, 60.0), (61.8, 61.2), (61.8, 60.0), (64.1, 61.2), (64.1, 60.0), (57.9, 51.1),
             (61.9, 43.1), (39.6, 49.0), (46.7, 47.9), (46.7, 46.8), (46.7, 45.6), (51.8, 47.1),
             (33.6, 41.1), (34.5, 40.2), (33.6, 38.8), (36.6, 49.0), (47.7, 41.1), (28.5, 39.9),
             (24.0, 43.3), (36.0, 40.5)],
    "F638": [(37.0, 41.3), (38.0, 41.7), (38.6, 40.5), (39.5, 41.2), (40.2, 42.5), (41.0, 43.5),
             (40.5, 44.3), (41.4, 42.7), (38.5, 43.5), (39.0, 40.3), (41.7, 48.5), (42.4, 47.9),
             (43.0, 48.5), (43.0, 47.7)],
    "M697(a)": [(55.0, 42.5), (52.5, 37.3)],
    "M266": [(36.6, 30.4), (38.6, 32.5), (40.0, 28.1), (40.9, 27.0), (41.7, 27.0), (38.9, 27.0),
             (36.6, 26.2), (38.7, 26.2), (45.8, 25.7), (45.8, 24.0), (46.8, 25.7), (48.7, 30.1),
             (50.7, 32.1), (45.6, 36.1), (30.6, 30.1), (40.0, 25.7), (37.5, 27.0), (47.7, 38.6)],
    "F147": [(59.8, 35.7), (60.5, 35.2), (61.2, 35.5), (61.8, 34.6), (62.5, 34.0), (63.0, 33.3),
             (62.3, 32.5), (61.5, 32.0), (63.8, 33.0), (64.5, 32.4), (65.2, 32.0), (66.5, 31.3),
             (63.5, 31.2), (64.3, 30.8), (69.0, 33.2), (70.0, 33.2), (71.5, 33.2), (72.5, 33.2),
             (73.5, 33.2), (69.0, 31.5), (70.5, 31.5), (55.5, 33.0), (55.5, 31.2), (63.3, 35.3)],
    "M929": [(68.5, 51.0), (69.5, 51.0), (70.5, 51.0), (66.5, 50.0), (73.5, 49.5), (74.7, 49.3),
             (73.0, 47.8), (70.2, 47.5), (70.2, 46.7), (69.5, 47.5), (69.5, 46.7), (74.5, 44.2),
             (76.8, 45.3), (79.5, 47.5), (80.5, 46.5), (81.2, 46.5), (80.5, 45.5), (81.3, 45.5),
             (80.0, 43.0), (79.3, 43.0), (77.5, 50.0), (75.5, 41.0), (76.0, 39.5), (76.0, 37.5),
             (74.0, 35.8), (75.5, 36.0), (67.2, 61.2), (68.2, 60.6), (69.0, 60.0), (72.9, 62.1)],
    "F616": [(83.0, 57.5), (84.3, 57.7), (85.2, 57.7), (86.0, 57.7), (86.8, 57.7), (84.3, 56.5),
             (85.3, 56.5), (86.2, 56.3), (87.2, 56.3), (89.5, 57.0), (90.5, 56.5), (90.5, 55.7),
             (84.0, 48.5), (85.4, 48.3), (86.3, 49.0), (87.8, 49.3), (86.6, 47.5), (85.0, 47.2),
             (83.1, 54.1), (83.4, 50.4)],
    "M981": [(23.5, 33.3), (24.8, 34.0), (24.7, 44.0)],
    "M697(b)": [(20.8, 9.0), (21.7, 9.2), (21.0, 8.5)],
}
spring_rings = {
    "M370": [[(52.0, 97.6), (55.4, 98.9), (57.9, 98.4), (60.1, 99.5), (62.2, 97.6), (63.1, 95.1),
              (65.6, 94.2), (67.2, 91.7), (66.5, 90.0), (63.1, 89.8), (60.9, 89.2), (58.8, 87.9),
              (57.1, 88.1), (55.4, 90.8), (52.8, 92.9), (51.5, 95.1)]],
    "M455": [[(56.2, 79.4), (57.5, 82.4), (61.3, 84.1), (67.3, 86.6), (70.7, 90.8), (75.0, 93.8),
              (79.7, 94.2), (81.8, 91.3), (81.0, 86.6), (77.6, 82.4), (76.5, 77.3), (74.1, 73.5),
              (69.0, 71.8), (63.1, 71.0), (58.8, 73.1), (56.7, 76.1)]],
    "F533": [[(63.9, 80.2), (64.4, 81.6), (65.6, 82.0), (66.9, 81.3), (67.2, 79.5), (66.5, 77.8),
              (65.3, 77.4), (64.1, 78.4)]],
    "F521": [[(54.5, 89.5), (55.0, 90.8), (56.1, 91.2), (57.3, 90.7), (57.7, 89.4), (57.1, 88.2),
              (55.8, 87.9), (54.8, 88.4)],
             [(53.5, 86.2), (54.5, 88.0), (56.5, 88.7), (58.2, 88.0), (59.8, 86.5), (59.7, 84.2),
              (58.3, 83.2), (56.3, 83.5), (54.3, 84.0)],
             [(54.7, 80.1), (55.1, 81.0), (55.9, 81.2), (56.8, 80.6), (56.7, 79.4), (55.7, 79.0),
              (54.9, 79.4)]],
    "M697(c)": [[(17.0, 82.8), (18.3, 84.9), (20.8, 87.4), (22.5, 88.7), (25.1, 87.9), (27.4, 85.3),
                 (27.2, 81.5), (26.4, 79.4), (25.5, 76.5), (26.8, 73.5), (25.1, 71.0), (22.5, 71.4),
                 (21.7, 73.9), (22.1, 78.1), (20.0, 79.8), (17.8, 80.3)],
                [(19.8, 76.3), (20.3, 77.0), (21.1, 76.8), (21.2, 76.0), (20.5, 75.6)]],
    "M856": [[(9.1, 60.4), (11.4, 62.9), (17.0, 64.5), (23.8, 64.5), (29.8, 62.5), (33.0, 57.9),
              (32.8, 52.8), (29.8, 49.4), (24.7, 47.5), (19.1, 46.9), (16.6, 49.0), (14.8, 52.4),
              (12.3, 54.9), (9.7, 57.4)]],
    "M198": [[(24.0, 41.8), (25.9, 46.9), (29.8, 51.1), (36.6, 54.5), (44.3, 57.0), (49.4, 59.5),
              (56.2, 63.8), (62.2, 64.9), (66.0, 63.4), (67.3, 60.0), (65.6, 54.5), (61.3, 48.1),
              (56.2, 45.2), (51.1, 41.8), (47.7, 37.6), (41.7, 33.8), (34.9, 31.8), (29.8, 32.5),
              (25.5, 35.9)]],
    "F638": [[(35.3, 41.8), (37.0, 43.1), (38.7, 44.8), (40.9, 45.2), (42.6, 43.3), (41.7, 41.0),
              (39.2, 39.4), (36.6, 39.3), (35.1, 40.3)]],
    "M697(a)": [[(47.7, 38.5), (49.0, 41.5), (52.0, 44.0), (54.8, 45.2), (56.6, 44.0), (56.3, 41.0),
                 (54.0, 38.0), (51.0, 35.2), (48.5, 35.3)]],
    "M266": [[(33.6, 29.1), (34.9, 32.1), (38.3, 33.2), (42.6, 33.4), (45.1, 37.6), (48.5, 38.9),
              (52.4, 37.6), (53.7, 34.2), (52.0, 28.3), (50.3, 23.2), (46.4, 20.7), (41.7, 21.1),
              (36.6, 23.2), (34.1, 26.2)]],
    "F147": [[(57.9, 33.8), (59.2, 36.1), (62.6, 36.9), (66.5, 36.3), (70.7, 37.1), (74.6, 36.5),
              (76.5, 34.2), (75.9, 31.2), (72.4, 30.0), (67.3, 28.7), (62.2, 29.5), (58.8, 31.2)]],
    "M929": [[(64.8, 49.4), (66.5, 52.4), (69.9, 53.4), (74.1, 52.8), (78.4, 51.1), (83.5, 50.7),
              (88.1, 49.8), (89.3, 47.3), (87.8, 44.8), (84.8, 43.5), (80.1, 39.7), (77.1, 35.5),
              (74.6, 31.2), (71.2, 29.6), (68.2, 30.8), (67.7, 34.2), (69.9, 37.6), (71.6, 40.9),
              (70.7, 43.9), (67.3, 45.6), (65.2, 47.3)]],
    "F616": [[(81.8, 57.9), (82.7, 58.7), (86.1, 59.1), (88.2, 57.9), (91.2, 57.4), (92.1, 56.2),
              (90.8, 55.3), (88.7, 55.7), (85.2, 55.5), (82.7, 55.7)],
             [(82.5, 48.1), (83.5, 49.9), (85.8, 50.6), (88.1, 49.9), (89.1, 48.1), (88.1, 46.3),
              (85.8, 45.6), (83.5, 46.3)]],
    "M981": [[(23.6, 33.2), (24.0, 34.0), (24.8, 34.4), (25.2, 33.8), (24.6, 33.0)]],
}
spring_dots = {}
spring_labels = [("M370", 48.3, 99.8), ("M697(c)", 14.6, 87.6), ("F521", 48.7, 83.8),
                 ("M455", 74.1, 84.7), ("F533", 74.8, 68.4), ("M856", 18.0, 57.4),
                 ("M198", 51.5, 55.3), ("F616", 89.4, 52.9), ("F638", 33.4, 46.6),
                 ("M929", 85.9, 37.7), ("M981", 17.4, 32.3), ("F147", 73.9, 24.6),
                 ("M266", 35.3, 19.8), ("M697(a)", 63.0, 17.7), ("M697(b)", 17.1, 12.4)]
spring_leaders = [((73.3, 70.5), (66.5, 77.7)), ((34.0, 45.2), (37.0, 43.1)),
                  ((57.8, 19.8), (54.9, 37.6)), ((72.0, 26.6), (69.9, 28.7))]

# ---------------------------------------------------------------- layout
PANELS = [
    ("A", "June", june_pts, june_rings, june_dots, june_labels, june_leaders, COL),
    ("B", "July", july_pts, july_rings, july_dots, july_labels, july_leaders, COL),
    ("C", "August", aug_pts, aug_rings, aug_dots, aug_labels, aug_leaders, COL),
    ("D", "September", sep_pts, sep_rings, sep_dots, sep_labels, sep_leaders, COL),
    ("E", "October", oct_pts, oct_rings, oct_dots, oct_labels, oct_leaders, COL),
    ("F", "April + May", spring_pts, spring_rings, spring_dots, spring_labels, spring_leaders,
     COL_SPRING),
]
W, H = 1208, 882
# pixel boxes of the six frames: (left, right) / (top, bottom) with axis ranges
COL_PX = [(11, 403, -0.2, 99.8), (416, 808, 0.0, 100.0), (820, 1207, 0.0, 98.7)]
ROW_PX = [(10, 443, -0.25, 109.9), (453, 882, 1.27, 109.9)]

FONT = "Lato, 'Open Sans', sans-serif"
fig = go.Figure()
layout = dict(width=W, height=H, margin=dict(l=0, r=0, t=0, b=0),
              paper_bgcolor="white", plot_bgcolor="white", showlegend=False,
              annotations=[])

for i, (letter, month, pts, rings, dots, labels, leaders, cmap) in enumerate(PANELS):
    r, c = divmod(i, 3)
    xl, xr, x0, x1 = COL_PX[c]
    yt, yb, y0, y1 = ROW_PX[r]
    sfx = "" if i == 0 else str(i + 1)
    xa, ya = "x" + sfx, "y" + sfx
    common = dict(showgrid=False, zeroline=False, showline=True, mirror=True,
                  linecolor="#8a8a8a", linewidth=1.5, ticks="inside", ticklen=8,
                  tickwidth=1.3, tickcolor="#505050", ticklabelposition="inside",
                  tickfont=dict(family=FONT, size=13, color="#3a3a3a"))
    layout["xaxis" + sfx] = dict(common, domain=[xl / W, xr / W], range=[x0, x1],
                                 tickvals=[20, 40, 60, 80], anchor=ya)
    layout["yaxis" + sfx] = dict(common, domain=[1 - yb / H, 1 - yt / H], range=[y0, y1],
                                 tickvals=[20, 40, 60, 80, 100], anchor=xa,
                                 ticklabelstandoff=1)

    for (p, q) in leaders:
        fig.add_trace(go.Scatter(x=[p[0], q[0]], y=[p[1], q[1]], mode="lines",
                                 line=dict(color="#b0b0b0", width=0.8),
                                 xaxis=xa, yaxis=ya, hoverinfo="skip"))
    for name, ring_list in rings.items():
        for ring in ring_list:
            xs = [v[0] for v in ring] + [ring[0][0]]
            ys = [v[1] for v in ring] + [ring[0][1]]
            fig.add_trace(go.Scatter(x=xs, y=ys, mode="lines",
                                     line=dict(color=cmap[name], width=1.6, shape="spline",
                                               smoothing=1.0),
                                     xaxis=xa, yaxis=ya, hoverinfo="skip"))
    for name, plist in pts.items():
        fig.add_trace(go.Scatter(x=[v[0] for v in plist], y=[v[1] for v in plist],
                                 mode="markers", marker=dict(color=cmap[name], size=3.6),
                                 xaxis=xa, yaxis=ya, name=name))
    for name, (dx, dy) in dots.items():
        fig.add_trace(go.Scatter(x=[dx], y=[dy], mode="markers",
                                 marker=dict(color=cmap[name], size=7),
                                 xaxis=xa, yaxis=ya, name=name))
    for (txt, tx, ty) in labels:
        layout["annotations"].append(dict(text=txt, x=tx, y=ty, xref=xa, yref=ya,
                                          showarrow=False, xanchor="center", yanchor="middle",
                                          font=dict(family=FONT, size=14.5, color="#222222")))
    layout["annotations"].append(dict(text="<b>%s</b>" % letter, x=0, y=1,
                                      xref=xa + " domain", yref=ya + " domain",
                                      xanchor="left", yanchor="top", xshift=2, yshift=-2,
                                      showarrow=False,
                                      font=dict(family="Liberation Sans, Arial", size=20,
                                                color="#111111")))
    layout["annotations"].append(dict(text="<b>%s</b>" % month, x=1, y=1,
                                      xref=xa + " domain", yref=ya + " domain",
                                      xanchor="right", yanchor="top", xshift=-23, yshift=-4,
                                      showarrow=False,
                                      font=dict(family=FONT, size=17, color="#222222")))

fig.update_layout(**layout)
fig.write_html("out.html")
